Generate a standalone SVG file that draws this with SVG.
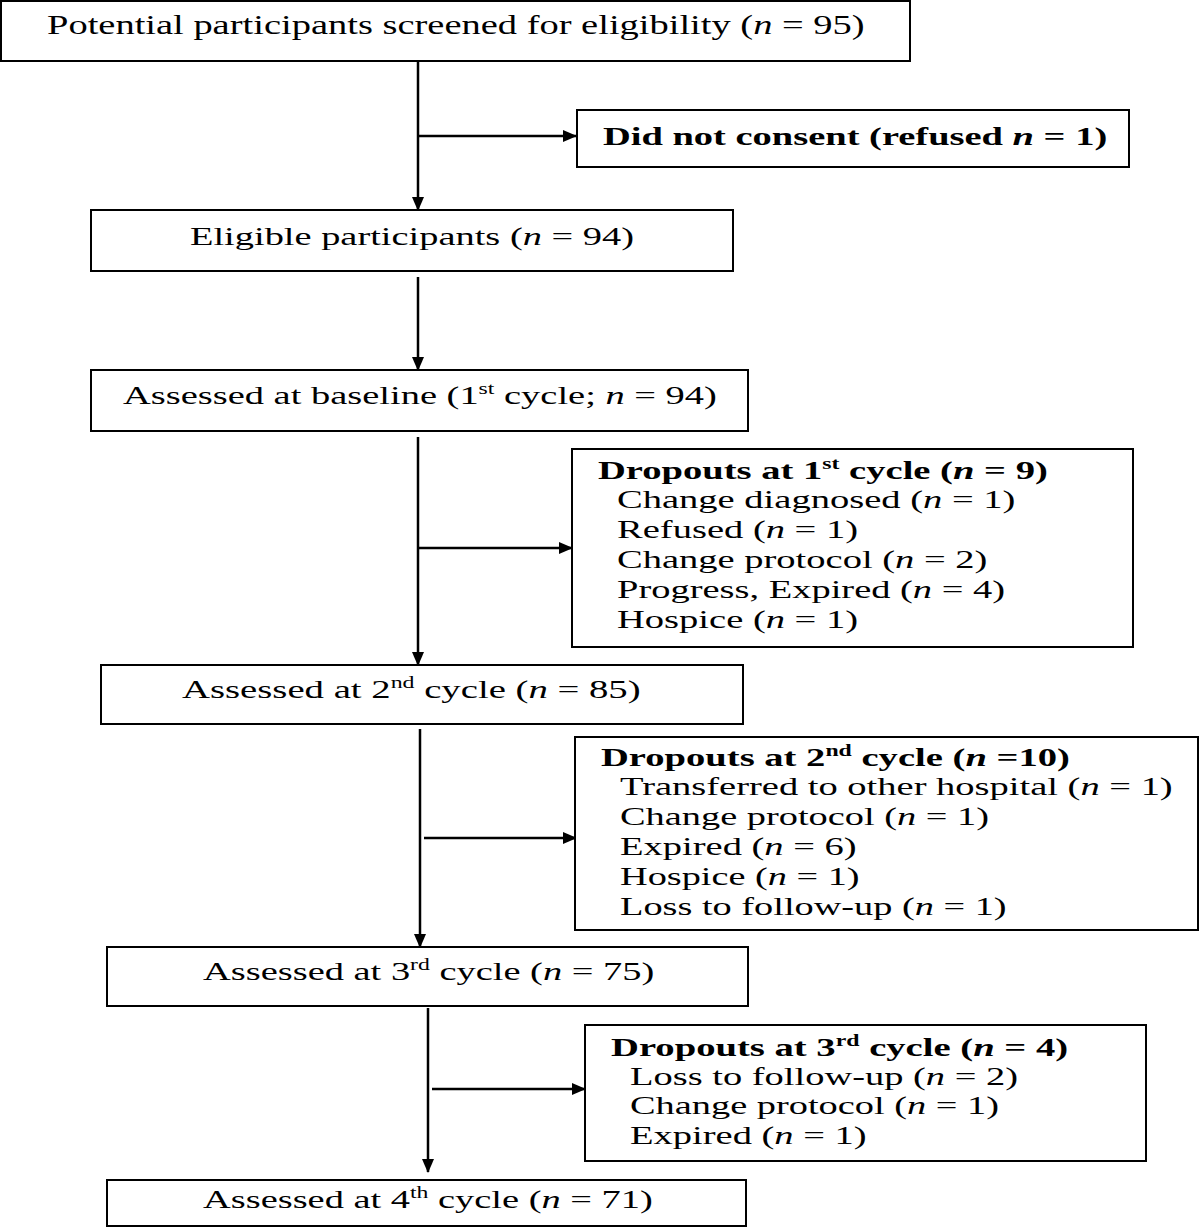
<svg xmlns="http://www.w3.org/2000/svg" width="1200" height="1228" viewBox="0 0 1200 1228">
<style>
.box{fill:#fff;stroke:#000;stroke-width:2}
.t{font-family:"Liberation Serif","Times New Roman",serif;font-size:26px;fill:#000}
.b{font-weight:bold}
.i{font-style:italic}
.sup{font-size:16px}
.ln{stroke:#000;stroke-width:2.5;fill:none}
</style>
<defs>
<marker id="ah" markerWidth="14" markerHeight="12" refX="13" refY="6" orient="auto" markerUnits="userSpaceOnUse">
<path d="M0,0 L14,6 L0,12 Z" fill="#000"/>
</marker>
</defs>
<rect width="1200" height="1228" fill="#fff"/>
<g id="connectors">
<line class="ln" x1="418" y1="62" x2="418" y2="210" marker-end="url(#ah)"/>
<line class="ln" x1="418" y1="136" x2="576" y2="136" marker-end="url(#ah)"/>
<line class="ln" x1="418" y1="277" x2="418" y2="370" marker-end="url(#ah)"/>
<line class="ln" x1="418" y1="437" x2="418" y2="665" marker-end="url(#ah)"/>
<line class="ln" x1="418" y1="548" x2="572" y2="548" marker-end="url(#ah)"/>
<line class="ln" x1="420" y1="729" x2="420" y2="947" marker-end="url(#ah)"/>
<line class="ln" x1="424" y1="838" x2="576" y2="838" marker-end="url(#ah)"/>
<line class="ln" x1="428" y1="1008" x2="428" y2="1172" marker-end="url(#ah)"/>
<line class="ln" x1="432" y1="1089" x2="585" y2="1089" marker-end="url(#ah)"/>
</g>
<g id="screened">
<rect class="box" x="1" y="1" width="909" height="60"/>
<text class="t" style="font-size:28px" transform="translate(47,34) scale(1.365,1)" textLength="599" lengthAdjust="spacingAndGlyphs">Potential participants screened for eligibility (<tspan class="i">n</tspan> = 95)</text>
</g>
<g id="noconsent">
<rect class="box" x="577" y="110" width="552" height="57"/>
<text class="t b" transform="translate(603,145) scale(1.47,1)" textLength="343" lengthAdjust="spacingAndGlyphs">Did not consent (refused <tspan class="i">n</tspan> = 1)</text>
</g>
<g id="eligible">
<rect class="box" x="91" y="210" width="642" height="61"/>
<text class="t" transform="translate(190,245) scale(1.47,1)" textLength="302" lengthAdjust="spacingAndGlyphs">Eligible participants (<tspan class="i">n</tspan> = 94)</text>
</g>
<g id="baseline">
<rect class="box" x="91" y="370" width="657" height="61"/>
<text class="t" transform="translate(123,404) scale(1.47,1)" textLength="404" lengthAdjust="spacingAndGlyphs">Assessed at baseline (1<tspan class="sup" dy="-10">st</tspan><tspan dy="10"> cycle; </tspan><tspan class="i">n</tspan> = 94)</text>
</g>
<g id="dropouts1">
<rect class="box" x="572" y="449" width="561" height="198"/>
<text class="t b" transform="translate(598,479) scale(1.47,1)" textLength="306" lengthAdjust="spacingAndGlyphs">Dropouts at 1<tspan class="sup" dy="-10">st</tspan><tspan dy="10"> cycle (</tspan><tspan class="i">n</tspan> = 9)</text>
<text class="t" transform="translate(617,508) scale(1.47,1)" textLength="271" lengthAdjust="spacingAndGlyphs">Change diagnosed (<tspan class="i">n</tspan> = 1)</text>
<text class="t" transform="translate(617,538) scale(1.47,1)" textLength="164" lengthAdjust="spacingAndGlyphs">Refused (<tspan class="i">n</tspan> = 1)</text>
<text class="t" transform="translate(617,568) scale(1.47,1)" textLength="252" lengthAdjust="spacingAndGlyphs">Change protocol (<tspan class="i">n</tspan> = 2)</text>
<text class="t" transform="translate(617,598) scale(1.47,1)" textLength="264" lengthAdjust="spacingAndGlyphs">Progress, Expired (<tspan class="i">n</tspan> = 4)</text>
<text class="t" transform="translate(617,628) scale(1.47,1)" textLength="164" lengthAdjust="spacingAndGlyphs">Hospice (<tspan class="i">n</tspan> = 1)</text>
</g>
<g id="cycle2">
<rect class="box" x="101" y="665" width="642" height="59"/>
<text class="t" transform="translate(182,698) scale(1.47,1)" textLength="312" lengthAdjust="spacingAndGlyphs">Assessed at 2<tspan class="sup" dy="-10">nd</tspan><tspan dy="10"> cycle (</tspan><tspan class="i">n</tspan> = 85)</text>
</g>
<g id="dropouts2">
<rect class="box" x="575" y="737" width="623" height="193"/>
<text class="t b" transform="translate(601,766) scale(1.47,1)" textLength="319" lengthAdjust="spacingAndGlyphs">Dropouts at 2<tspan class="sup" dy="-10">nd</tspan><tspan dy="10"> cycle (</tspan><tspan class="i">n</tspan> =10)</text>
<text class="t" transform="translate(620,795) scale(1.47,1)" textLength="376" lengthAdjust="spacingAndGlyphs">Transferred to other hospital (<tspan class="i">n</tspan> = 1)</text>
<text class="t" transform="translate(620,825) scale(1.47,1)" textLength="251" lengthAdjust="spacingAndGlyphs">Change protocol (<tspan class="i">n</tspan> = 1)</text>
<text class="t" transform="translate(620,855) scale(1.47,1)" textLength="161" lengthAdjust="spacingAndGlyphs">Expired (<tspan class="i">n</tspan> = 6)</text>
<text class="t" transform="translate(620,885) scale(1.47,1)" textLength="163" lengthAdjust="spacingAndGlyphs">Hospice (<tspan class="i">n</tspan> = 1)</text>
<text class="t" transform="translate(620,915) scale(1.47,1)" textLength="263" lengthAdjust="spacingAndGlyphs">Loss to follow-up (<tspan class="i">n</tspan> = 1)</text>
</g>
<g id="cycle3">
<rect class="box" x="107" y="947" width="641" height="59"/>
<text class="t" transform="translate(203,980) scale(1.47,1)" textLength="307" lengthAdjust="spacingAndGlyphs">Assessed at 3<tspan class="sup" dy="-10">rd</tspan><tspan dy="10"> cycle (</tspan><tspan class="i">n</tspan> = 75)</text>
</g>
<g id="dropouts3">
<rect class="box" x="585" y="1025" width="561" height="136"/>
<text class="t b" transform="translate(611,1056) scale(1.47,1)" textLength="311" lengthAdjust="spacingAndGlyphs">Dropouts at 3<tspan class="sup" dy="-10">rd</tspan><tspan dy="10"> cycle (</tspan><tspan class="i">n</tspan> = 4)</text>
<text class="t" transform="translate(630,1085) scale(1.47,1)" textLength="264" lengthAdjust="spacingAndGlyphs">Loss to follow-up (<tspan class="i">n</tspan> = 2)</text>
<text class="t" transform="translate(630,1114) scale(1.47,1)" textLength="251" lengthAdjust="spacingAndGlyphs">Change protocol (<tspan class="i">n</tspan> = 1)</text>
<text class="t" transform="translate(630,1144) scale(1.47,1)" textLength="161" lengthAdjust="spacingAndGlyphs">Expired (<tspan class="i">n</tspan> = 1)</text>
</g>
<g id="cycle4">
<rect class="box" x="107" y="1180" width="639" height="46"/>
<text class="t" transform="translate(203,1208) scale(1.47,1)" textLength="306" lengthAdjust="spacingAndGlyphs">Assessed at 4<tspan class="sup" dy="-10">th</tspan><tspan dy="10"> cycle (</tspan><tspan class="i">n</tspan> = 71)</text>
</g>
</svg>
